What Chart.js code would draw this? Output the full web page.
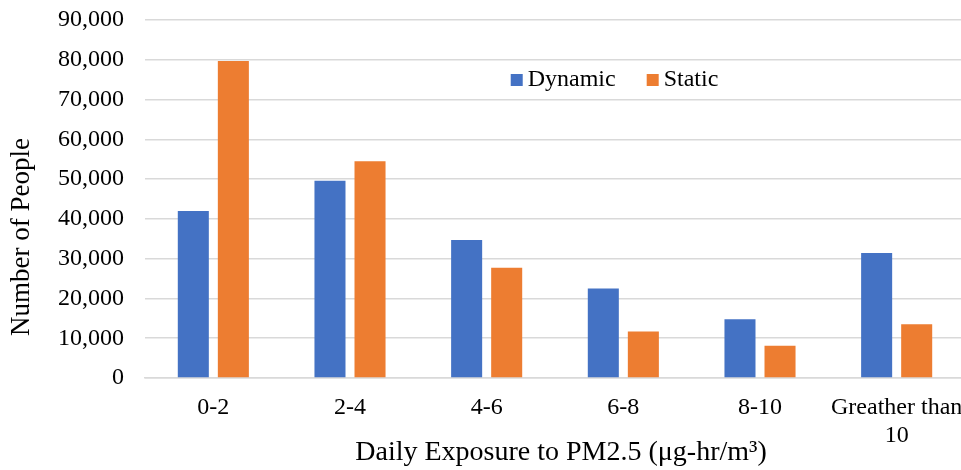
<!DOCTYPE html>
<html lang="en">
<head>
    <meta charset="UTF-8">
    <title>Daily Exposure to PM2.5</title>
    <script src="https://cdn.jsdelivr.net/npm/chart.js@4"></script>
    <style>
        html, body {
            margin: 0;
            padding: 0;
            background: #fff;
            overflow: hidden;
        }
        #wrap {
            position: relative;
            width: 965px;
            height: 470px;
        }
    </style>
</head>
<body>
    <div id="wrap"><canvas id="chart"></canvas></div>

    <script>
        // data
        const categories = ['0-2', '2-4', '4-6', '6-8', '8-10', ['Greather than', '10']];
        const dynamicValues = [42000, 49600, 34700, 22500, 14800, 31400];
        const staticValues = [79700, 54500, 27700, 11700, 8100, 13500];
        const yTicks = [0, 10000, 20000, 30000, 40000, 50000, 60000, 70000, 80000, 90000];
        const yTitle = 'Number of People';
        const xTitle = 'Daily Exposure to PM2.5 (μg-hr/m³)';

        const FONT = "'Liberation Serif', 'Times New Roman', serif";
        const gridColor = '#d9d9d9';

        // legend sits inside the plot and the axis titles are centred on the
        // picture rather than on the plot, so these are drawn by hand
        const extras = {
            id: 'extras',
            afterDraw(chart) {
                const ctx = chart.ctx;
                const area = chart.chartArea;
                let x = area.left + (area.right - area.left) * 0.446;
                const y = 80;
                ctx.save();
                ctx.font = '24px ' + FONT;
                ctx.textBaseline = 'middle';
                ctx.textAlign = 'left';
                chart.data.datasets.forEach(ds => {
                    ctx.fillStyle = ds.backgroundColor;
                    ctx.fillRect(x, y - 6, 12, 12);
                    ctx.fillStyle = '#000';
                    ctx.fillText(ds.label, x + 17, y);
                    x += 17 + ctx.measureText(ds.label).width + 31;
                });

                ctx.font = '28px ' + FONT;
                ctx.textAlign = 'center';
                ctx.fillText(xTitle, 561, 453);

                ctx.translate(22, 237);
                ctx.rotate(-Math.PI / 2);
                ctx.font = '27px ' + FONT;
                ctx.fillText(yTitle, 0, 0);
                ctx.restore();
            }
        };

        new Chart(document.getElementById('chart'), {
            type: 'bar',
            data: {
                labels: categories,
                datasets: [
                    { label: 'Dynamic', data: dynamicValues, backgroundColor: '#4472C4' },
                    { label: 'Static', data: staticValues, backgroundColor: '#ED7D31' }
                ]
            },
            options: {
                responsive: true,
                maintainAspectRatio: false,
                animation: false,
                categoryPercentage: 0.586,
                barPercentage: 0.775,
                layout: { padding: { top: 20, left: 0, right: 0, bottom: 0 } },
                plugins: {
                    legend: { display: false },
                    tooltip: { enabled: false }
                },
                scales: {
                    x: {
                        grid: { display: false, drawTicks: false },
                        border: { display: true, color: gridColor, width: 1.5 },
                        ticks: {
                            color: '#000',
                            padding: 16,
                            maxRotation: 0,
                            autoSkip: false,
                            font: { family: FONT, size: 24, lineHeight: 1.15 }
                        },
                        afterFit(scale) {
                            scale.height = 92;
                            scale.paddingLeft = 0;
                            scale.paddingRight = 0;
                        }
                    },
                    y: {
                        min: 0,
                        max: 90000,
                        afterBuildTicks(scale) {
                            scale.ticks = yTicks.map(v => ({ value: v }));
                        },
                        grid: { color: gridColor, lineWidth: 1.5, drawTicks: false },
                        border: { display: false },
                        ticks: {
                            color: '#000',
                            padding: 21,
                            font: { family: FONT, size: 24 },
                            callback: v => v.toLocaleString('en-US')
                        },
                        afterFit(scale) {
                            scale.width = 145;
                            scale.paddingTop = 0;
                            scale.paddingBottom = 0;
                        }
                    }
                }
            },
            plugins: [extras]
        });
    </script>
</body>
</html>
